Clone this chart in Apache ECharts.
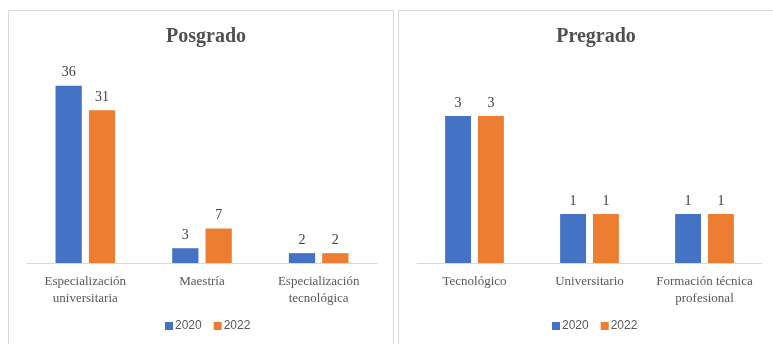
<!DOCTYPE html>
<html>
<head>
<meta charset="utf-8">
<script src="https://cdn.jsdelivr.net/npm/echarts@6/dist/echarts.min.js"></script>
<style>
  html, body { margin: 0; padding: 0; background: #fff; }
  #chart { width: 773px; height: 344px; }
</style>
</head>
<body>
<div id="chart"></div>
<script>
// Programas por nivel de formación, 2020 vs 2022
const posgradoCategories = ['Especialización\nuniversitaria', 'Maestría', 'Especialización\ntecnológica'];
const posgrado2020 = [36, 3, 2];
const posgrado2022 = [31, 7, 2];

const pregradoCategories = ['Tecnológico', 'Universitario', 'Formación técnica\nprofesional'];
const pregrado2020 = [3, 1, 1];
const pregrado2022 = [3, 1, 1];

const seriesNames = ['2020', '2022'];
const colors = ['#4472C4', '#ED7D31'];

const serif = '"Liberation Serif", "DejaVu Serif", serif';
const textColor = '#595959';

const chart = echarts.init(document.getElementById('chart'));

function xAxisFor(index, categories) {
  return {
    type: 'category',
    gridIndex: index,
    data: categories,
    axisLine: { lineStyle: { color: '#d9d9d9' } },
    axisTick: { show: false },
    axisLabel: {
      color: textColor,
      fontFamily: serif,
      fontSize: 13,
      lineHeight: 17,
      margin: 10,
      interval: 0
    }
  };
}

function yAxisFor(index, max) {
  return {
    type: 'value',
    gridIndex: index,
    min: 0,
    max: max,
    show: false,
    splitLine: { show: false }
  };
}

function barSeries(name, data, axis, color) {
  return {
    name: name,
    type: 'bar',
    xAxisIndex: axis,
    yAxisIndex: axis,
    data: data,
    barWidth: '22.5%',
    barGap: '27%',
    itemStyle: { color: color },
    label: {
      show: true,
      position: 'top',
      distance: 6,
      color: '#404040',
      fontFamily: serif,
      fontSize: 14
    }
  };
}

function legendFor(leftX) {
  return {
    data: seriesNames,
    left: leftX,
    top: 320,
    padding: 0,
    itemWidth: 8,
    itemHeight: 8,
    itemGap: 12,
    icon: 'rect',
    textStyle: {
      color: textColor,
      fontFamily: '"Liberation Sans", Arial, sans-serif',
      fontSize: 12,
      padding: [0, 0, 0, -3]
    },
    selectedMode: false
  };
}

chart.setOption({
  animation: false,
  graphic: [
    { type: 'rect', shape: { x: 8.5, y: 10.5, width: 385, height: 340 },
      style: { fill: 'none', stroke: '#d9d9d9', lineWidth: 1 } },
    { type: 'rect', shape: { x: 398.5, y: 10.5, width: 380, height: 340 },
      style: { fill: 'none', stroke: '#d9d9d9', lineWidth: 1 } }
  ],
  title: [
    { text: 'Posgrado', left: 201, top: 22, textAlign: 'center',
      textStyle: { fontFamily: serif, fontSize: 20, fontWeight: 'bold', color: '#505050' } },
    { text: 'Pregrado', left: 591, top: 22, textAlign: 'center',
      textStyle: { fontFamily: serif, fontSize: 20, fontWeight: 'bold', color: '#505050' } }
  ],
  legend: [legendFor(165), legendFor(552)],
  grid: [
    { left: 27, top: 66, width: 350, height: 197 },
    { left: 417, top: 67, width: 345, height: 196 }
  ],
  xAxis: [xAxisFor(0, posgradoCategories), xAxisFor(1, pregradoCategories)],
  yAxis: [yAxisFor(0, 40), yAxisFor(1, 4)],
  series: [
    barSeries(seriesNames[0], posgrado2020, 0, colors[0]),
    barSeries(seriesNames[1], posgrado2022, 0, colors[1]),
    barSeries(seriesNames[0], pregrado2020, 1, colors[0]),
    barSeries(seriesNames[1], pregrado2022, 1, colors[1])
  ]
});
</script>
</body>
</html>
